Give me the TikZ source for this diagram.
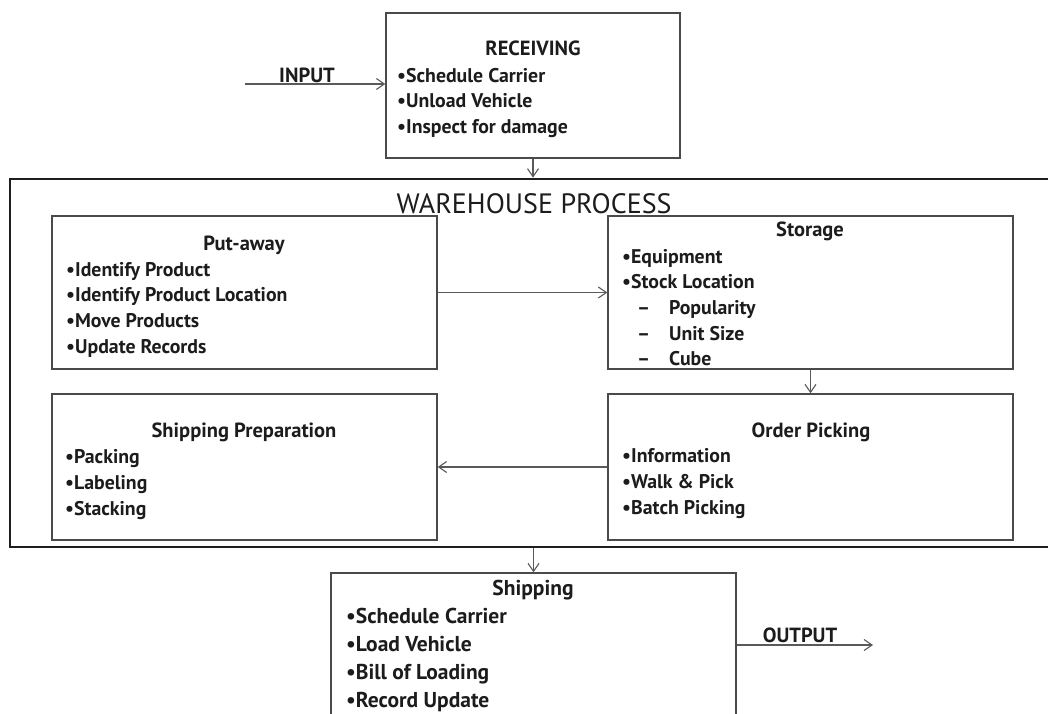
\documentclass[tikz,border=0pt]{standalone}
\usepackage{fontspec}
\setmainfont{PT Sans}
\usetikzlibrary{arrows.meta}
\definecolor{ink}{HTML}{1C1C1C}
\definecolor{boxline}{HTML}{4A4A4A}
\definecolor{frameline}{HTML}{1E1E1E}
\definecolor{arrowgray}{HTML}{5A5A5A}
\tikzset{
  box/.style={draw=boxline, line width=1.4pt, inner sep=0pt, fill=none},
  frame/.style={draw=frameline, line width=2.8pt, inner sep=0pt},
  flow/.style={draw=arrowgray, line width=1.1pt, -{Straight Barb[length=8pt,width=11pt,line width=1.1pt]}},
  title/.style={anchor=base, inner sep=0pt, text=ink, font=\bfseries\fontsize{20.5}{24}\selectfont},
  item/.style={anchor=base west, inner sep=0pt, text=ink, font=\bfseries\fontsize{19.8}{24}\selectfont},
  bigitem/.style={item, font=\bfseries\fontsize{21.5}{26}\selectfont},
  bigtitle/.style={title, font=\bfseries\fontsize{21.5}{26}\selectfont},
  heading/.style={anchor=base, inner sep=0pt, text=ink, font=\fontsize{28}{32}\selectfont},
}
\begin{document}
\begin{tikzpicture}[x=1pt, y=-1pt]
\useasboundingbox (0,0) rectangle (1048,713);
\fill[white] (0,0) rectangle (1048,713);

% ---- outer warehouse frame (runs off the right edge)
\node[frame, minimum width=1050pt, minimum height=368pt] (wh) at (535,363) {};
\node[heading] (whT) at (534,213) {WAREHOUSE PROCESS};

% ---- receiving
\node[box, minimum width=294pt, minimum height=145pt] (recv) at (533,85.5) {};
\node[title] (recvT) at (533,55) {RECEIVING};
\foreach \t [count=\i] in {Schedule Carrier, Unload Vehicle, Inspect for damage}
  \node[item] (recv\i) at (397, 56.5+25.5*\i) {•\t};
\coordinate (inStart) at (245,84);
\node[title] (inL) at (307,82) {INPUT};

% ---- put-away
\node[box, minimum width=385pt, minimum height=153pt] (put) at (244.5,292.5) {};
\node[title] (putT) at (244,250) {Put-away};
\foreach \t [count=\i] in {Identify Product, Identify Product Location, Move Products, Update Records}
  \node[item] (put\i) at (66, 250.3+25.7*\i) {•\t};

% ---- storage
\node[box, minimum width=405pt, minimum height=153pt] (stor) at (810.5,292.5) {};
\node[title] (storT) at (810,236) {Storage};
\node[item] (stor1) at (622,263) {•Equipment};
\node[item] (stor2) at (622,288.5) {•Stock Location};
\foreach \t [count=\i] in {Popularity, Unit Size, Cube}{
  \node[item] (sd\i) at (637, 288.8+25.7*\i) {–};
  \node[item] (ss\i) at (669, 288.8+25.7*\i) {\t};
}

% ---- shipping preparation
\node[box, minimum width=385pt, minimum height=146pt] (prep) at (244.5,467) {};
\node[title] (prepT) at (244,437) {Shipping Preparation};
\foreach \t [count=\i] in {Packing, Labeling, Stacking}
  \node[item] (prep\i) at (65, 437+26*\i) {•\t};

% ---- order picking
\node[box, minimum width=405pt, minimum height=146pt] (pick) at (810.5,467) {};
\node[title] (pickT) at (811,437) {Order Picking};
\foreach \t [count=\i] in {Information, Walk \& Pick, Batch Picking}
  \node[item] (pick\i) at (622, 437+25.8*\i) {•\t};

% ---- shipping (runs off the bottom edge)
\node[box, minimum width=405pt, minimum height=250pt] (ship) at (533.5,698) {};
\node[bigtitle] (shipT) at (533,595) {Shipping};
\foreach \t [count=\i] in {Schedule Carrier, Load Vehicle, Bill of Loading, Record Update}
  \node[bigitem] (ship\i) at (346, 594.7+28.3*\i) {•\t};
\coordinate (outEnd) at (873,645);
\node[title] (outL) at (800,642) {OUTPUT};

% ---- connectors
\draw[flow] (inStart) -- (inStart -| recv.west);
\draw[flow] (recv.south) -- (recv.south |- wh.north);
\draw[flow] (put.east) -- (stor.west);
\draw[flow] (stor.south) -- (pick.north);
\draw[flow] (pick.west) -- (prep.east);
\draw[flow] (ship.north |- wh.south) -- (ship.north);
\draw[flow] (ship.east |- outEnd) -- (outEnd);
\end{tikzpicture}
\end{document}
